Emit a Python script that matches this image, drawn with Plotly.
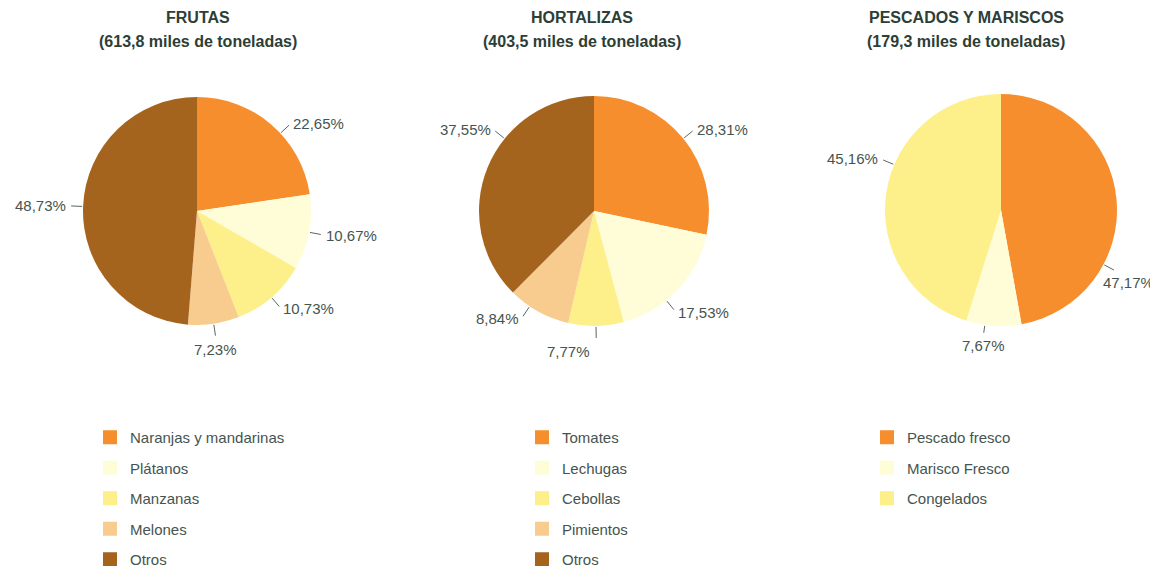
import math
import plotly.graph_objects as go

# page body has an 8px margin; figure is taller than the window so that
# nothing near the bottom edge pushes the plot margins
OFF = 8
W, H = 1158 - OFF, 620

# ---------------- data ----------------
frutas_labels = ["Naranjas y mandarinas", "Plátanos", "Manzanas", "Melones", "Otros"]
frutas_values = [22.65, 10.67, 10.73, 7.23, 48.73]
frutas_title = "FRUTAS"
frutas_sub = "(613,8 miles de toneladas)"

hort_labels = ["Tomates", "Lechugas", "Cebollas", "Pimientos", "Otros"]
hort_values = [28.31, 17.53, 7.77, 8.84, 37.55]
hort_title = "HORTALIZAS"
hort_sub = "(403,5 miles de toneladas)"

pesc_labels = ["Pescado fresco", "Marisco Fresco", "Congelados"]
pesc_values = [47.17, 7.67, 45.16]
pesc_title = "PESCADOS Y MARISCOS"
pesc_sub = "(179,3 miles de toneladas)"

ORANGE = "#F68E2E"
CREAM = "#FFFCD8"
YELLOW = "#FDEF8A"
MELON = "#F8CB8E"
BROWN = "#A5641E"
frutas_colors = [ORANGE, CREAM, YELLOW, MELON, BROWN]
hort_colors = [ORANGE, CREAM, YELLOW, MELON, BROWN]
pesc_colors = [ORANGE, CREAM, YELLOW]

TEXT = "#46544f"
TITLE = "#2c3e36"
FONT = "Liberation Sans, Arial, sans-serif"

# layout per pie (window pixels): center, radius, title center x, legend left x,
# optional label placement overrides (angle in degrees clockwise from 12 o'clock)
pies = [
    dict(labels=frutas_labels, values=frutas_values, colors=frutas_colors,
         title=frutas_title, sub=frutas_sub,
         cx=197, cy=211, r=114, tx=198, lx=90, legend="legend",
         label_opts=[dict(angle=47), {}, {}, {}, {}]),
    dict(labels=hort_labels, values=hort_values, colors=hort_colors,
         title=hort_title, sub=hort_sub,
         cx=594, cy=211, r=115, tx=582, lx=522, legend="legend2",
         label_opts=[{}, dict(angle=141), dict(angle=179, xa="right", xshift=-4),
                     dict(angle=214), dict(angle=309)]),
    dict(labels=pesc_labels, values=pesc_values, colors=pesc_colors,
         title=pesc_title, sub=pesc_sub,
         cx=1001, cy=210, r=116, tx=966, lx=867, legend="legend3",
         label_opts=[dict(angle=118, ya="top", xshift=-16),
                     dict(angle=188, xa="center", ya="top", dist=10, llen=7),
                     dict(angle=293)]),
]

fig = go.Figure()
annotations = []
shapes = []


def px(x):
    return (x - OFF) / W


def py(y):
    return 1 - (y - OFF) / H


for p in pies:
    cx, cy, r = p["cx"], p["cy"], p["r"]
    fig.add_trace(go.Pie(
        labels=p["labels"], values=p["values"],
        marker=dict(colors=p["colors"], line=dict(width=0)),
        sort=False, direction="clockwise", rotation=0,
        textinfo="none", hoverinfo="label+percent",
        showlegend=False,
        domain=dict(x=[px(cx - r), px(cx + r)], y=[py(cy + r), py(cy - r)]),
    ))
    # legend entries
    for lab, col in zip(p["labels"], p["colors"]):
        fig.add_trace(go.Scatter(
            x=[None], y=[None], mode="markers", name=lab,
            marker=dict(symbol="square", size=14, color=col),
            legend=p["legend"], legendgroup=p["legend"] + lab,
            showlegend=True,
        ))
    # outside labels with leader lines, from slice mid-angles
    total = sum(p["values"])
    cum = 0
    for v, opt in zip(p["values"], p["label_opts"]):
        mid = (cum + v / 2) / total * 2 * math.pi
        cum += v
        if "angle" in opt:
            mid = math.radians(opt["angle"])
        dx, dy = math.sin(mid), -math.cos(mid)
        llen = opt.get("llen", 11)
        dist = opt.get("dist", 15)
        x0, y0 = cx + dx * (r + 1), cy + dy * (r + 1)
        x1, y1 = cx + dx * (r + 1 + llen), cy + dy * (r + 1 + llen)
        shapes.append(dict(type="line", xref="paper", yref="paper",
                           x0=px(x0), y0=py(y0), x1=px(x1), y1=py(y1),
                           line=dict(color="#5a6661", width=1)))
        tx, ty = cx + dx * (r + dist), cy + dy * (r + dist)
        xa = "left" if dx > 0.35 else ("right" if dx < -0.35 else "center")
        ya = "top" if dy > 0.9 else ("bottom" if dy < -0.9 else "middle")
        xa = opt.get("xa", xa)
        ya = opt.get("ya", ya)
        annotations.append(dict(
            x=px(tx), y=py(ty), xref="paper", yref="paper",
            text=f"{v:.2f}%".replace(".", ","), showarrow=False,
            xanchor=xa, yanchor=ya, xshift=opt.get("xshift", 0),
            font=dict(size=15, color=TEXT, family=FONT),
        ))
    annotations.append(dict(
        x=px(p["tx"]), y=py(18), xref="paper", yref="paper",
        text="<b>" + p["title"] + "</b>",
        showarrow=False, xanchor="center", yanchor="middle",
        font=dict(size=16, color=TITLE, family=FONT),
    ))
    annotations.append(dict(
        x=px(p["tx"]), y=py(42), xref="paper", yref="paper",
        text="<b>" + p["sub"] + "</b>",
        showarrow=False, xanchor="center", yanchor="middle",
        font=dict(size=16, color=TITLE, family=FONT),
    ))

leg_common = dict(
    yanchor="top", xanchor="left", y=py(421), tracegroupgap=8,
    font=dict(size=15, color=TEXT, family=FONT), bgcolor="rgba(0,0,0,0)",
    itemclick=False, itemdoubleclick=False,
)
fig.update_layout(
    width=W, height=H,
    margin=dict(l=0, r=0, t=0, b=0),
    paper_bgcolor="white", plot_bgcolor="white",
    font=dict(family=FONT, color=TEXT),
    xaxis=dict(visible=False), yaxis=dict(visible=False),
    legend=dict(x=px(pies[0]["lx"]), **leg_common),
    legend2=dict(x=px(pies[1]["lx"]), **leg_common),
    legend3=dict(x=px(pies[2]["lx"]), **leg_common),
    annotations=annotations, shapes=shapes,
)

fig.write_html("out.html")
